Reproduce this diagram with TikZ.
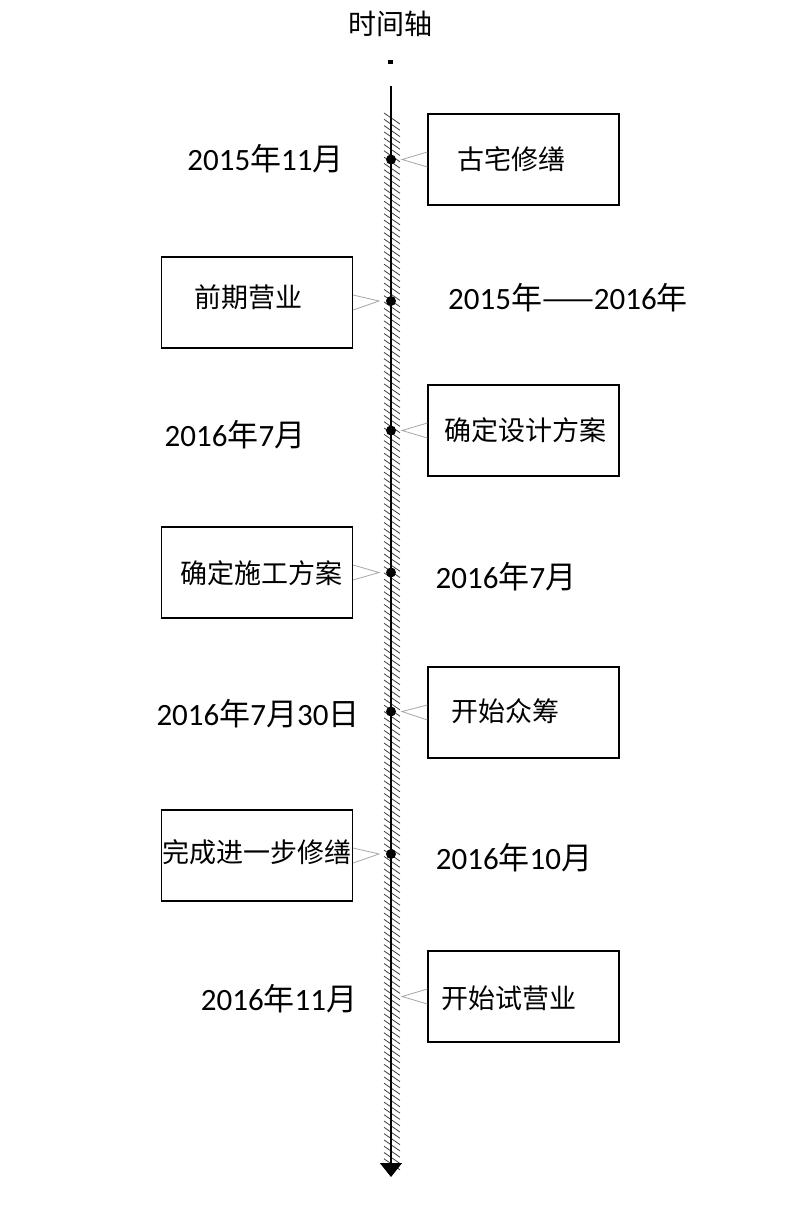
\documentclass[tikz,border=0pt]{standalone}
\usepackage{fontspec}
\setmainfont{Carlito}
\newfontfamily\cjk{Noto Sans CJK SC}
\usetikzlibrary{arrows.meta, positioning}
\tikzstyle{event} = [draw=black, line width=1.2pt, minimum width=191pt, minimum height=91pt, inner sep=0pt]
\tikzstyle{callout} = [draw=black!35, line width=0.8pt]
\tikzstyle{axis} = [line width=1.3pt, -{Triangle[width=22pt,length=14pt]}]

\begin{document}
\begin{tikzpicture}[
    x=1pt, y=-1pt,
    eventtext/.style={font=\cjk\fontsize{27}{27}\selectfont, inner sep=0pt},
    datetext/.style={font=\fontsize{31}{31}\selectfont, inner sep=0pt},
    dot/.style={circle, fill=black, inner sep=0pt, minimum size=10pt},
    hatch/.style={draw=black!75, line width=0.8pt}
]
\useasboundingbox (0,0) rectangle (798,1212);

% Axis
\node (title) [font=\cjk\fontsize{28}{28}\selectfont, inner sep=0pt] at (390,24) {时间轴};
\node (mark) [fill=black, inner sep=0pt, minimum size=4.5pt] at (390.5,62) {};
\foreach \i in {0,...,166}
    \draw [hatch] (384,{113+6.3*\i}) -- (400,{124+6.3*\i});
\coordinate (top) at (391,86);
\coordinate (bottom) at (391,1177);
\draw [axis] (top) -- (bottom);

% Events
\node (e1) [event] at (523.5,159.5) {};
\node (e2) [event] at (257,302.5) {};
\node (e3) [event] at (523.5,430.5) {};
\node (e4) [event] at (257,572.5) {};
\node (e5) [event] at (523.5,712.5) {};
\node (e6) [event] at (257,855.5) {};
\node (e7) [event] at (523.5,996.5) {};

\node (t1) [eventtext] at (511,159) {古宅修缮};
\node (t2) [eventtext] at (248,297) {前期营业};
\node (t3) [eventtext] at (525,430) {确定设计方案};
\node (t4) [eventtext] at (261,573) {确定施工方案};
\node (t5) [eventtext] at (505,711) {开始众筹};
\node (t6) [eventtext] at (257,852) {完成进一步修缮};
\node (t7) [eventtext] at (508.5,998) {开始试营业};

% Dates
\node (d1) [dot] at (391,159.5) {};
\node (d2) [dot] at (391,301) {};
\node (d3) [dot] at (391,430.5) {};
\node (d4) [dot] at (391,572.5) {};
\node (d5) [dot] at (391,711.5) {};
\node (d6) [dot] at (391,854) {};
\coordinate (d7) at (391,996.5);

\node (y1) [datetext] at (265.5,159) {2015{\cjk 年}11{\cjk 月}};
\node (y2) [datetext] at (568,298) {2015{\cjk 年——}2016{\cjk 年}};
\node (y3) [datetext] at (235,435) {2016{\cjk 年}7{\cjk 月}};
\node (y4) [datetext] at (506,577) {2016{\cjk 年}7{\cjk 月}};
\node (y5) [datetext] at (258,714) {2016{\cjk 年}7{\cjk 月}30{\cjk 日}};
\node (y6) [datetext] at (514,858) {2016{\cjk 年}10{\cjk 月}};
\node (y7) [datetext] at (279,999) {2016{\cjk 年}11{\cjk 月}};

% Callouts
\foreach \n in {1,3,5,7}
    \draw [callout] ([yshift=7.5pt]e\n.west) -- ([xshift=11pt]d\n.center) -- ([yshift=-7.5pt]e\n.west);
\foreach \n in {2,4,6}
    \draw [callout] ([yshift=7.5pt]e\n.east) -- ([xshift=-12pt]d\n.center) -- ([yshift=-7.5pt]e\n.east);

\end{tikzpicture}
\end{document}
